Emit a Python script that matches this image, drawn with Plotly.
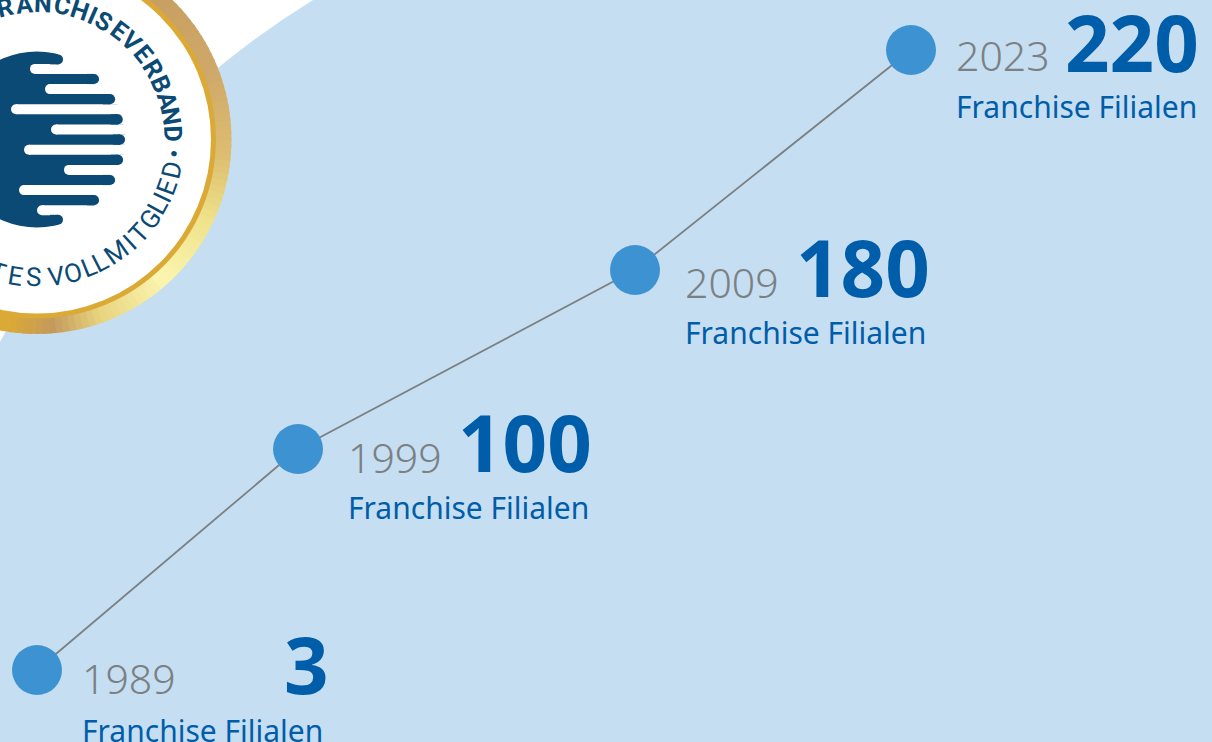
import math
import plotly.graph_objects as go

W, H = 1212, 742

years = ["1989", "1999", "2009", "2023"]
counts = ["3", "100", "180", "220"]
unit_label = "Franchise Filialen"
# The picture is a schematic: milestones are placed by hand, not to scale
milestone_x = [37, 298, 635, 911]
milestone_y = [670, 449, 270, 50]
text_dx = [46, 51, 51, 46]
year_dy = [25, 25, 29, 22]
count_dy = [24, 23, 27, 22]
label_dy = [72, 70, 74, 68]
count_right = [244, 241, 242, 240]

badge_top_letters = list("FRANCHISEVERBAND")
badge_top_angles = [111, 103.4, 95.4, 87.6, 79.6, 71.6, 66, 60.5, 53, 46, 39, 31.5, 24, 16.8, 9.8, 2.5]
badge_bottom_letters = list("GEPRÜFTESVOLLMITGLIED•")
badge_bottom_angles = [-150.5, -143, -135.5, -128, -121, -113.5, -106.5, -99, -91.5, -81.8, -75, -68, -62.7,
                       -54.8, -47.7, -42.4, -35, -29, -25, -20, -12.7, -5.9]

logo_bar_y = [79, 99.2, 119.4, 139.6, 159.8, 180, 200.2]
logo_bar_end = [99, 115, 122.7, 125, 123, 115, 99]
logo_slot_y = [68.9, 89.1, 109.3, 129.5, 149.7, 169.9, 190.1, 210.3]
logo_slot_start = [30, 45, 11, 51, 24, 64, 19, 37]

BG = "#C6DEF1"
NAVY = "#0B4A75"
BLUE = "#005DAA"
DOT = "#3D93D2"
GREY = "#7B8083"
FONT = "Noto Sans"
CX, CY = 37, 139.5

gold_stops = [(-180, "#DBA935"), (-98, "#DBA935"), (-85, "#C49A5C"), (-70, "#E8D47F"), (-48, "#FAF5B0"),
              (-25, "#EFE28A"), (-5, "#DDBE70"), (20, "#CFA96A"), (50, "#C79F62"), (75, "#D2A95C"), (180, "#D2A95C")]


def hex_rgb(c):
    return tuple(int(c[i:i + 2], 16) for i in (1, 3, 5))


def gold(a):
    for (a0, c0), (a1, c1) in zip(gold_stops, gold_stops[1:]):
        if a0 <= a <= a1:
            t = (a - a0) / (a1 - a0)
            r = [round(u + (v - u) * t) for u, v in zip(hex_rgb(c0), hex_rgb(c1))]
            return "rgb(%d,%d,%d)" % tuple(r)
    return gold_stops[-1][1]


def circle(cx, cy, r, color):
    return dict(type="circle", xref="x", yref="y", x0=cx - r, x1=cx + r, y0=cy - r, y1=cy + r,
                fillcolor=color, line_width=0, layer="below")


def rect(x0, x1, y0, y1, color):
    return dict(type="rect", xref="x", yref="y", x0=x0, x1=x1, y0=y0, y1=y1,
                fillcolor=color, line_width=0, layer="below")


shapes = [dict(type="path", xref="x", yref="y", layer="below", line_width=0, fillcolor="white",
               path="M -5 -5 L 320 -5 L 313 0 Q 112 124 0 342 L -5 352 Z")]

step = 2
for a in range(-180, 180, step):
    a0, a1 = math.radians(a - 0.3), math.radians(a + step + 0.3)
    p = [(CX + 194.5 * math.cos(a0), CY - 194.5 * math.sin(a0)), (CX + 194.5 * math.cos(a1), CY - 194.5 * math.sin(a1)),
         (CX + 170 * math.cos(a1), CY - 170 * math.sin(a1)), (CX + 170 * math.cos(a0), CY - 170 * math.sin(a0))]
    shapes.append(dict(type="path", xref="x", yref="y", layer="below", line_width=0, fillcolor=gold(a + step / 2),
                       path="M " + " L ".join("%.2f %.2f" % q for q in p) + " Z"))
shapes.append(circle(CX, CY, 179, "#DBA935"))
shapes.append(circle(CX, CY, 174, "white"))

shapes.append(circle(CX, CY, 88, NAVY))
for y, s in zip(logo_slot_y, logo_slot_start):
    shapes.append(rect(s + 5, 132, y - 5, y + 5, "white"))
    shapes.append(circle(s + 5, y, 5, "white"))
for y, e in zip(logo_bar_y, logo_bar_end):
    shapes.append(rect(e - 5, 132, y - 5.2, y + 5.2, "white"))
    shapes.append(rect(e - 12, e - 5, y - 5.1, y + 5.1, NAVY))
    shapes.append(circle(e - 5, y, 5.1, NAVY))
for y, sgn in ((59.4, -1), (219.8, 1)):
    shapes.append(rect(58, 132, min(y, y + sgn * 10), max(y, y + sgn * 10), "white"))
    shapes.append(rect(58, 132, y - 5.2, y + 5.2, "white"))
    shapes.append(rect(50, 58, y - 5, y + 5, NAVY))
    shapes.append(circle(58, y, 5, NAVY))

ann = []
for i in range(4):
    x, y = milestone_x[i], milestone_y[i]
    left = text_dx[i] - 1
    ann.append(dict(x=x, y=y, text=years[i], xanchor="left", yanchor="middle", xshift=left, yshift=-(year_dy[i] - 17),
                    font=dict(family=FONT, size=41, color=GREY, weight=300)))
    ann.append(dict(x=x, y=y, text="<b>%s</b>" % counts[i], xanchor="right", yanchor="middle",
                    xshift=text_dx[i] + count_right[i] + 2, yshift=-(count_dy[i] - 30),
                    font=dict(family=FONT, size=78, color=BLUE)))
    ann.append(dict(x=x, y=y, text=unit_label, xanchor="left", yanchor="middle", xshift=left, yshift=-(label_dy[i] - 12),
                    font=dict(family=FONT, size=30, color=BLUE)))
for ch, a in zip(badge_top_letters, badge_top_angles):
    t = math.radians(a)
    ann.append(dict(xref="paper", yref="paper", x=(CX + 136 * math.cos(t)) / W, y=1 - (CY - 136 * math.sin(t)) / H,
                    text="<b>%s</b>" % ch, textangle=90 - a, xanchor="center", yanchor="middle",
                    font=dict(family="Roboto", size=25, color=NAVY)))
for ch, a in zip(badge_bottom_letters, badge_bottom_angles):
    t = math.radians(a)
    ann.append(dict(xref="paper", yref="paper", x=(CX + 138 * math.cos(t)) / W, y=1 - (CY - 138 * math.sin(t)) / H,
                    text=ch, textangle=-(90 + a), xanchor="center", yanchor="middle",
                    font=dict(family="Roboto", size=26, color=NAVY)))
for a_ in ann:
    a_.update(showarrow=False, borderpad=0, borderwidth=0)

fig = go.Figure(go.Scatter(
    x=milestone_x, y=milestone_y, mode="lines+markers", hoverinfo="skip",
    line=dict(color=GREY, width=1.8),
    marker=dict(size=50, color=DOT, line_width=0),
))
fig.update_layout(
    width=W, height=H, margin=dict(l=0, r=0, t=0, b=0), autosize=False, showlegend=False,
    paper_bgcolor=BG, plot_bgcolor=BG, shapes=shapes, annotations=ann,
    xaxis=dict(range=[0, W], visible=False, fixedrange=True),
    yaxis=dict(range=[H, 0], visible=False, fixedrange=True),
)
fig.write_html("out.html", config=dict(displayModeBar=False),
               post_script="document.body.style.margin='0';document.body.style.overflow='hidden';")
